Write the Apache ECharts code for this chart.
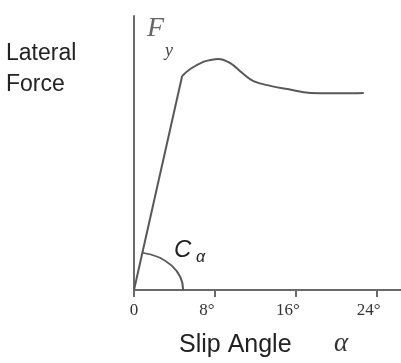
<!DOCTYPE html>
<html>
<head>
<meta charset="utf-8">
<style>
  html, body { margin: 0; padding: 0; background: #fff; }
  #chart { width: 401px; height: 363px; }
</style>
<script src="https://cdn.jsdelivr.net/npm/echarts@6/dist/echarts.min.js"></script>
</head>
<body>
<div id="chart"></div>
<script>
// Tyre lateral force vs. slip angle (normalised Fy, slip angle in degrees)
const slipTicks = [0, 8, 16, 24];
const tickLabels = ['0', '8°', '16°', '24°'];

// Linear (cornering-stiffness) region
const linearRegion = [[0, 0], [4.76, 0.937]];

// Transition, peak and saturation region
const peakRegion = [
  [4.76, 0.937], [5.56, 0.968], [6.85, 0.999], [7.54, 1.007], [8.33, 1.012],
  [9.52, 0.994], [10.71, 0.950], [11.81, 0.915], [13.49, 0.894], [15.18, 0.880],
  [17.46, 0.863], [19.44, 0.862], [21.43, 0.862], [22.72, 0.863]
];

// Reach of the C_alpha angle marker: [slip angle, force]
const arcReach = [4.86, 0.166];

const chart = echarts.init(document.getElementById('chart'), null, { renderer: 'canvas' });

const lineColor = '#585858';
const axisColor = '#6a6a6a';

chart.setOption({
  animation: false,
  backgroundColor: '#ffffff',
  grid: { left: 134, right: 0, top: 16, bottom: 73, containLabel: false },
  xAxis: {
    type: 'value',
    min: 0,
    max: 26.4,
    interval: 8,
    axisLine: { show: true, lineStyle: { color: axisColor, width: 2 } },
    axisTick: {
      show: true, inside: false, length: 7, customValues: slipTicks,
      lineStyle: { color: axisColor, width: 2 }
    },
    splitLine: { show: false },
    axisLabel: {
      margin: 12,
      customValues: slipTicks,
      fontFamily: 'Liberation Serif',
      fontSize: 17,
      color: '#333',
      formatter: function (v) {
        const i = slipTicks.indexOf(v);
        if (i < 0) return '';
        return v === 0 ? '{z|' + tickLabels[i] + '}' : '{d|' + tickLabels[i] + '}';
      },
      rich: {
        z: { fontFamily: 'Liberation Serif', fontSize: 17, color: '#333' },
        d: { fontFamily: 'Liberation Serif', fontSize: 17, color: '#333', padding: [0, 16, 0, 0] }
      }
    }
  },
  yAxis: {
    type: 'value',
    min: 0,
    max: 1.2,
    axisLine: { show: true, lineStyle: { color: axisColor, width: 2 } },
    axisTick: { show: false },
    axisLabel: { show: false },
    splitLine: { show: false }
  },
  series: [
    {
      type: 'line',
      data: linearRegion,
      symbol: 'none',
      lineStyle: { color: lineColor, width: 2 },
      z: 3
    },
    {
      type: 'line',
      data: peakRegion,
      symbol: 'none',
      smooth: 0.4,
      lineStyle: { color: lineColor, width: 2 },
      z: 3
    },
    {
      type: 'custom',
      data: [[0, 0]],
      encode: { x: 0, y: 1 },
      clip: false,
      renderItem: function (params, api) {
        const o = api.coord([0, 0]);
        const k = api.coord(linearRegion[1]);
        const rx = api.size([arcReach[0], 0])[0];
        const ry = api.size([0, arcReach[1]])[1];
        // angle where the marker meets the linear segment
        const t = Math.atan2((o[1] - k[1]) / ry, (k[0] - o[0]) / rx);
        return {
          type: 'arc',
          shape: { cx: o[0], cy: o[1], r: rx, startAngle: -t, endAngle: 0, clockwise: true },
          scaleY: ry / rx,
          originX: o[0],
          originY: o[1],
          style: { stroke: lineColor, lineWidth: 2, fill: 'none', strokeNoScale: true }
        };
      },
      z: 2
    }
  ],
  graphic: [
    {
      type: 'text', left: 6, top: 38,
      style: { text: 'Lateral\nForce', fontFamily: 'Liberation Sans', fontSize: 23, lineHeight: 31, fill: '#222' }
    },
    {
      type: 'text', left: 147, top: 15,
      style: { text: 'F', fontFamily: 'Liberation Serif', fontStyle: 'italic', fontSize: 28, fill: '#666' }
    },
    {
      type: 'text', left: 165, top: 42,
      style: { text: 'y', fontFamily: 'Liberation Serif', fontStyle: 'italic', fontSize: 18, fill: '#444' }
    },
    {
      type: 'text', left: 174, top: 238,
      style: { text: 'C', fontFamily: 'Liberation Sans', fontStyle: 'italic', fontSize: 24, fill: '#222' }
    },
    {
      type: 'text', left: 196, top: 250,
      style: { text: 'α', fontFamily: 'Liberation Sans', fontStyle: 'italic', fontSize: 16, fill: '#222' }
    },
    {
      type: 'text', left: 179, top: 333,
      style: { text: 'Slip Angle', fontFamily: 'Liberation Sans', fontSize: 25, fill: '#222' }
    },
    {
      type: 'text', left: 334, top: 330,
      style: { text: 'α', fontFamily: 'Liberation Serif', fontStyle: 'italic', fontSize: 27, fill: '#333' }
    }
  ]
});
</script>
</body>
</html>
